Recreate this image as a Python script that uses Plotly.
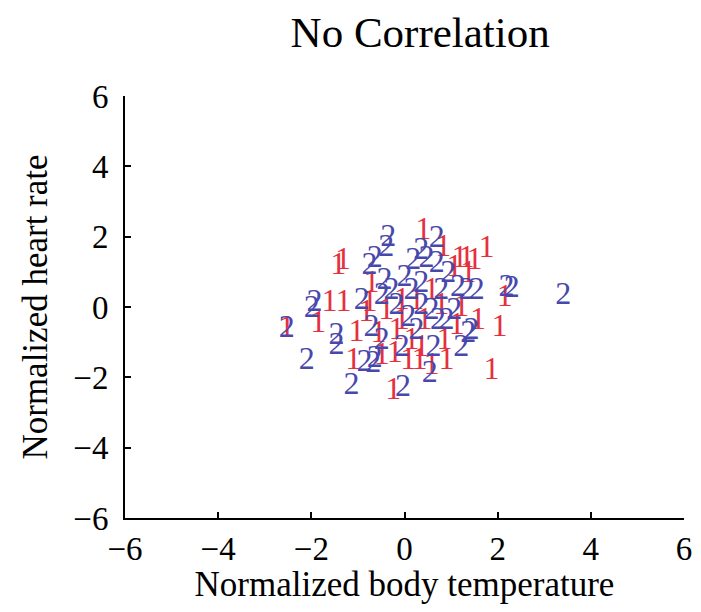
import plotly.graph_objects as go

# Group 1 (red "1")
x1 = [0.40, 0.83, 1.18, 1.33, 1.76, 1.07, 1.37, 1.50, -1.32, -1.42, -0.71, -1.61, -1.31, -0.75,
      -2.53, -1.85, -1.03, -1.10, -0.82, -0.24, -0.21, 0.36, 0.86, 0.08, -0.56, 0.43, 1.22,
      2.15, 1.58, 2.04, 1.87, -0.06, -0.39, 0.26, 0.58, 0.90, 0.58, 0.32, -0.49, -0.06, 0.79,
      1.12, -0.17, 0.15]
y1 = [2.16, 1.68, 1.36, 1.36, 1.65, 1.11, 0.94, 1.31, 1.31, 1.16, 0.65, 0.11, 0.11, 0.11,
      -0.63, -0.48, -0.74, -1.53, -0.17, -2.39, -1.34, -1.16, -0.97, -1.53, -0.77, -0.40, -0.03,
      0.26, -0.40, -0.60, -1.82, -0.40, -0.11, 0.17, 0.45, -1.53, -1.68, -1.53, -1.39, 0.17, 0.03,
      -0.54, -0.68, -0.97]

# Group 2 (blue "2")
x2 = [0.69, -0.35, -0.39, -0.75, -0.64, 0.36, 0.19, 0.47, 0.69, 0.94, 0.00, -0.43, -0.28, 0.36,
      0.79, 1.15, 1.55, 1.33, 2.30, 2.19, 3.41, -1.93, -1.99, -2.53, -1.46, -1.46, -2.10, -0.86,
      -0.64, -1.14, -0.71, -0.03, -0.06, 0.54, 0.62, 1.22, 1.37, 1.44, -0.49, -0.67, 0.08, 0.72,
      1.07, -0.17, 0.36, 0.58, -0.49, 0.15, 0.90, -0.92, 0.26]
y2 = [1.93, 1.96, 1.68, 1.16, 1.36, 1.59, 1.31, 1.36, 1.22, 0.94, 0.82, 0.74, 0.45, 0.65,
      0.45, 0.54, 0.45, 0.45, 0.51, 0.54, 0.31, 0.11, -0.06, -0.63, -0.82, -1.11, -1.53, -1.59,
      -1.48, -2.24, -0.60, -2.30, -1.16, -1.90, -1.16, -1.16, -0.77, -0.68, -0.97, -1.62, -0.31, -0.40,
      -0.11, 0.03, 0.03, -0.11, 0.31, 0.45, -0.40, 0.17, -0.68]

x_ticks = [-6, -4, -2, 0, 2, 4, 6]
y_ticks = [-6, -4, -2, 0, 2, 4, 6]
tick_text = ["\u22126", "\u22124", "\u22122", "0", "2", "4", "6"]

FONT = "Liberation Serif"
RED = "#e5303f"
BLUE = "#4848ac"

fig = go.Figure()
fig.add_trace(go.Scatter(x=x1, y=y1, mode="text", text=["1"] * len(x1),
                         textposition="middle center",
                         textfont=dict(family=FONT, size=32, color=RED),
                         showlegend=False, hoverinfo="x+y"))
fig.add_trace(go.Scatter(x=x2, y=y2, mode="text", text=["2"] * len(x2),
                         textposition="middle center",
                         textfont=dict(family=FONT, size=32, color=BLUE),
                         showlegend=False, hoverinfo="x+y"))

axis_common = dict(showgrid=False, zeroline=False, showline=True, linecolor="black",
                   linewidth=2, ticks="inside", ticklen=6, tickwidth=1.5, tickcolor="black",
                   tickfont=dict(family=FONT, size=33, color="black"), mirror=False,
                   automargin=False)

# page body has an 8px margin; the figure is sized to fit the 701x612 window
fig.update_layout(
    width=685, height=596,
    margin=dict(l=117, r=9, t=88, b=86, autoexpand=False),
    paper_bgcolor="white", plot_bgcolor="white",
    title=dict(text="No Correlation", x=0.528, xref="paper", xanchor="center",
               y=0.985, yanchor="top", yref="container",
               font=dict(family=FONT, size=43, color="black")),
    xaxis=dict(range=[-6, 6], tickvals=x_ticks, ticktext=tick_text, ticklabelstandoff=0,
               title=dict(text="Normalized body temperature",
                          font=dict(family=FONT, size=35, color="black")),
               **axis_common),
    yaxis=dict(range=[-6, 6], tickvals=y_ticks, ticktext=tick_text, ticklabelstandoff=8,
               title=dict(text="Normalized heart rate",
                          font=dict(family=FONT, size=35, color="black")),
               **axis_common),
)

fig.write_html("out.html")
